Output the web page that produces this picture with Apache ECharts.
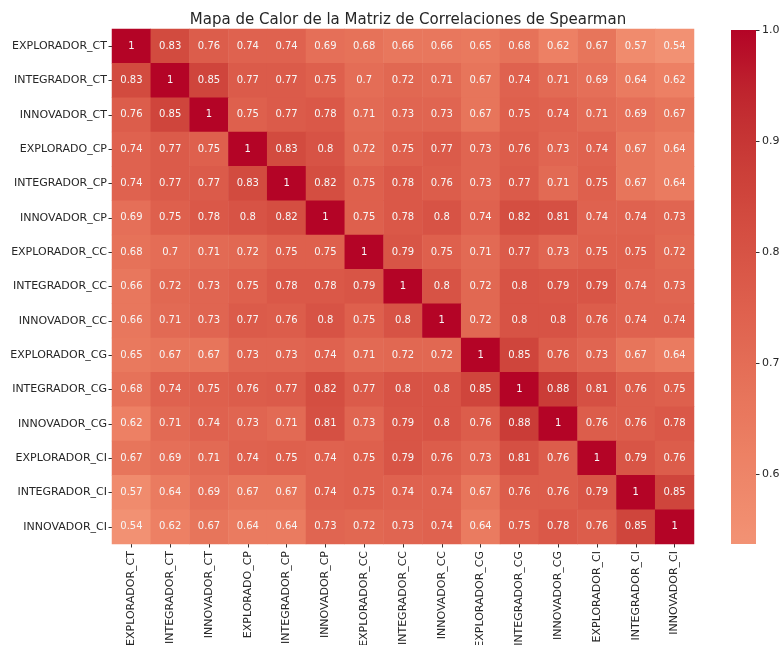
<!DOCTYPE html>
<html>
<head>
<meta charset="utf-8">
<script src="https://cdn.jsdelivr.net/npm/echarts@6/dist/echarts.min.js"></script>
<style>html,body{margin:0;padding:0;background:#fff}#c{width:779px;height:645px}</style>
</head>
<body>
<div id="c"></div>
<script>
// ---- data ----
const labels = ["EXPLORADOR_CT","INTEGRADOR_CT","INNOVADOR_CT","EXPLORADO_CP","INTEGRADOR_CP","INNOVADOR_CP","EXPLORADOR_CC","INTEGRADOR_CC","INNOVADOR_CC","EXPLORADOR_CG","INTEGRADOR_CG","INNOVADOR_CG","EXPLORADOR_CI","INTEGRADOR_CI","INNOVADOR_CI"];
const row0  = [1,0.83,0.76,0.74,0.74,0.69,0.68,0.66,0.66,0.65,0.68,0.62,0.67,0.57,0.54];
const row1  = [0.83,1,0.85,0.77,0.77,0.75,0.7,0.72,0.71,0.67,0.74,0.71,0.69,0.64,0.62];
const row2  = [0.76,0.85,1,0.75,0.77,0.78,0.71,0.73,0.73,0.67,0.75,0.74,0.71,0.69,0.67];
const row3  = [0.74,0.77,0.75,1,0.83,0.8,0.72,0.75,0.77,0.73,0.76,0.73,0.74,0.67,0.64];
const row4  = [0.74,0.77,0.77,0.83,1,0.82,0.75,0.78,0.76,0.73,0.77,0.71,0.75,0.67,0.64];
const row5  = [0.69,0.75,0.78,0.8,0.82,1,0.75,0.78,0.8,0.74,0.82,0.81,0.74,0.74,0.73];
const row6  = [0.68,0.7,0.71,0.72,0.75,0.75,1,0.79,0.75,0.71,0.77,0.73,0.75,0.75,0.72];
const row7  = [0.66,0.72,0.73,0.75,0.78,0.78,0.79,1,0.8,0.72,0.8,0.79,0.79,0.74,0.73];
const row8  = [0.66,0.71,0.73,0.77,0.76,0.8,0.75,0.8,1,0.72,0.8,0.8,0.76,0.74,0.74];
const row9  = [0.65,0.67,0.67,0.73,0.73,0.74,0.71,0.72,0.72,1,0.85,0.76,0.73,0.67,0.64];
const row10 = [0.68,0.74,0.75,0.76,0.77,0.82,0.77,0.8,0.8,0.85,1,0.88,0.81,0.76,0.75];
const row11 = [0.62,0.71,0.74,0.73,0.71,0.81,0.73,0.79,0.8,0.76,0.88,1,0.76,0.76,0.78];
const row12 = [0.67,0.69,0.71,0.74,0.75,0.74,0.75,0.79,0.76,0.73,0.81,0.76,1,0.79,0.76];
const row13 = [0.57,0.64,0.69,0.67,0.67,0.74,0.75,0.74,0.74,0.67,0.76,0.76,0.79,1,0.85];
const row14 = [0.54,0.62,0.67,0.64,0.64,0.73,0.72,0.73,0.74,0.64,0.75,0.78,0.76,0.85,1];
const rows = [row0,row1,row2,row3,row4,row5,row6,row7,row8,row9,row10,row11,row12,row13,row14];
const colorbarTicks = [0.6,0.7,0.8,0.9,1.0];
const title = "Mapa de Calor de la Matriz de Correlaciones de Spearman";

// ---- colormap (coolwarm, centered at 0 as in seaborn) ----
const cw = [[0.5,221,221,221],[0.53125,229,216,209],[0.5625,236,211,197],[0.59375,241,204,184],[0.625,245,196,172],[0.65625,247,187,160],[0.6875,247,177,148],[0.71875,247,166,135],[0.75,244,154,123],[0.78125,241,141,111],[0.8125,236,127,99],[0.84375,229,112,88],[0.875,222,96,77],[0.90625,213,80,66],[0.9375,203,62,56],[0.96875,192,40,47],[1.0,180,4,38]];
function coolwarm(t){
  for(let i=0;i<cw.length-1;i++){
    const a=cw[i], b=cw[i+1];
    if(t>=a[0] && t<=b[0]){
      const f=(t-a[0])/(b[0]-a[0]);
      const c=[1,2,3].map(k=>Math.round(a[k]+(b[k]-a[k])*f));
      return 'rgb('+c.join(',')+')';
    }
  }
  return 'rgb(180,4,38)';
}
const vmin = 0.537, vmax = 1.0;
const N = 40;
const stops = [], gradStops = [];
for(let i=0;i<=N;i++){
  const v=vmin+(vmax-vmin)*i/N;
  const col = coolwarm((v+1)/2);
  stops.push(col);
  gradStops.push({offset:1-i/N, color:col});
}

const data = [];
rows.forEach((r,y)=>r.forEach((v,x)=>data.push([x,y,v])));

const font = 'DejaVu Sans';
const chart = echarts.init(document.getElementById('c'), null, {renderer:'canvas'});
chart.setOption({
  animation:false,
  backgroundColor:'#fff',
  title:{text:title, left:403, top:8, textAlign:'center',
    textStyle:{fontFamily:font,fontSize:15,fontWeight:'normal',color:'#262626'}},
  grid:[{left:112, top:29, width:582, height:515, outerBoundsMode:'none', containLabel:false},
        {left:731, top:30, width:25, height:514, outerBoundsMode:'none', containLabel:false}],
  xAxis:[{type:'category', data:labels, gridIndex:0, position:'bottom',
    axisLine:{show:false}, splitLine:{show:false},
    axisTick:{show:true, length:3.5, alignWithLabel:true, lineStyle:{color:'#333'}},
    axisLabel:{rotate:90, interval:0, fontFamily:font, fontSize:11, color:'#262626', margin:7}},
    {type:'category', gridIndex:1, show:false, data:['cb']}],
  yAxis:[{type:'category', data:labels, gridIndex:0, inverse:true,
    axisLine:{show:false}, splitLine:{show:false},
    axisTick:{show:true, length:3.5, alignWithLabel:true, lineStyle:{color:'#333'}},
    axisLabel:{interval:0, fontFamily:font, fontSize:11, color:'#262626', margin:5}},
    {type:'value', gridIndex:1, position:'right', min:vmin, max:vmax,
     axisLine:{show:false}, splitLine:{show:false},
     axisTick:{show:true, length:3.5, lineStyle:{color:'#333'}, customValues:colorbarTicks},
     axisLabel:{fontFamily:font, fontSize:11, color:'#262626', margin:6,
       customValues:colorbarTicks, formatter:v=>v.toFixed(1)}}],
  visualMap:{type:'continuous', show:false, min:vmin, max:vmax, seriesIndex:0,
    inRange:{color:stops}},
  series:[{type:'heatmap', xAxisIndex:0, yAxisIndex:0, data:data,
    label:{show:true, formatter:p=>String(p.value[2]), fontFamily:font, fontSize:10, color:'#f7f7f7'},
    itemStyle:{borderWidth:0},
    emphasis:{disabled:true}},
    {type:'bar', xAxisIndex:1, yAxisIndex:1, data:[vmax], barWidth:25, silent:true,
     itemStyle:{color:new echarts.graphic.LinearGradient(0,0,0,1,gradStops)}}]
});
</script>
</body>
</html>
